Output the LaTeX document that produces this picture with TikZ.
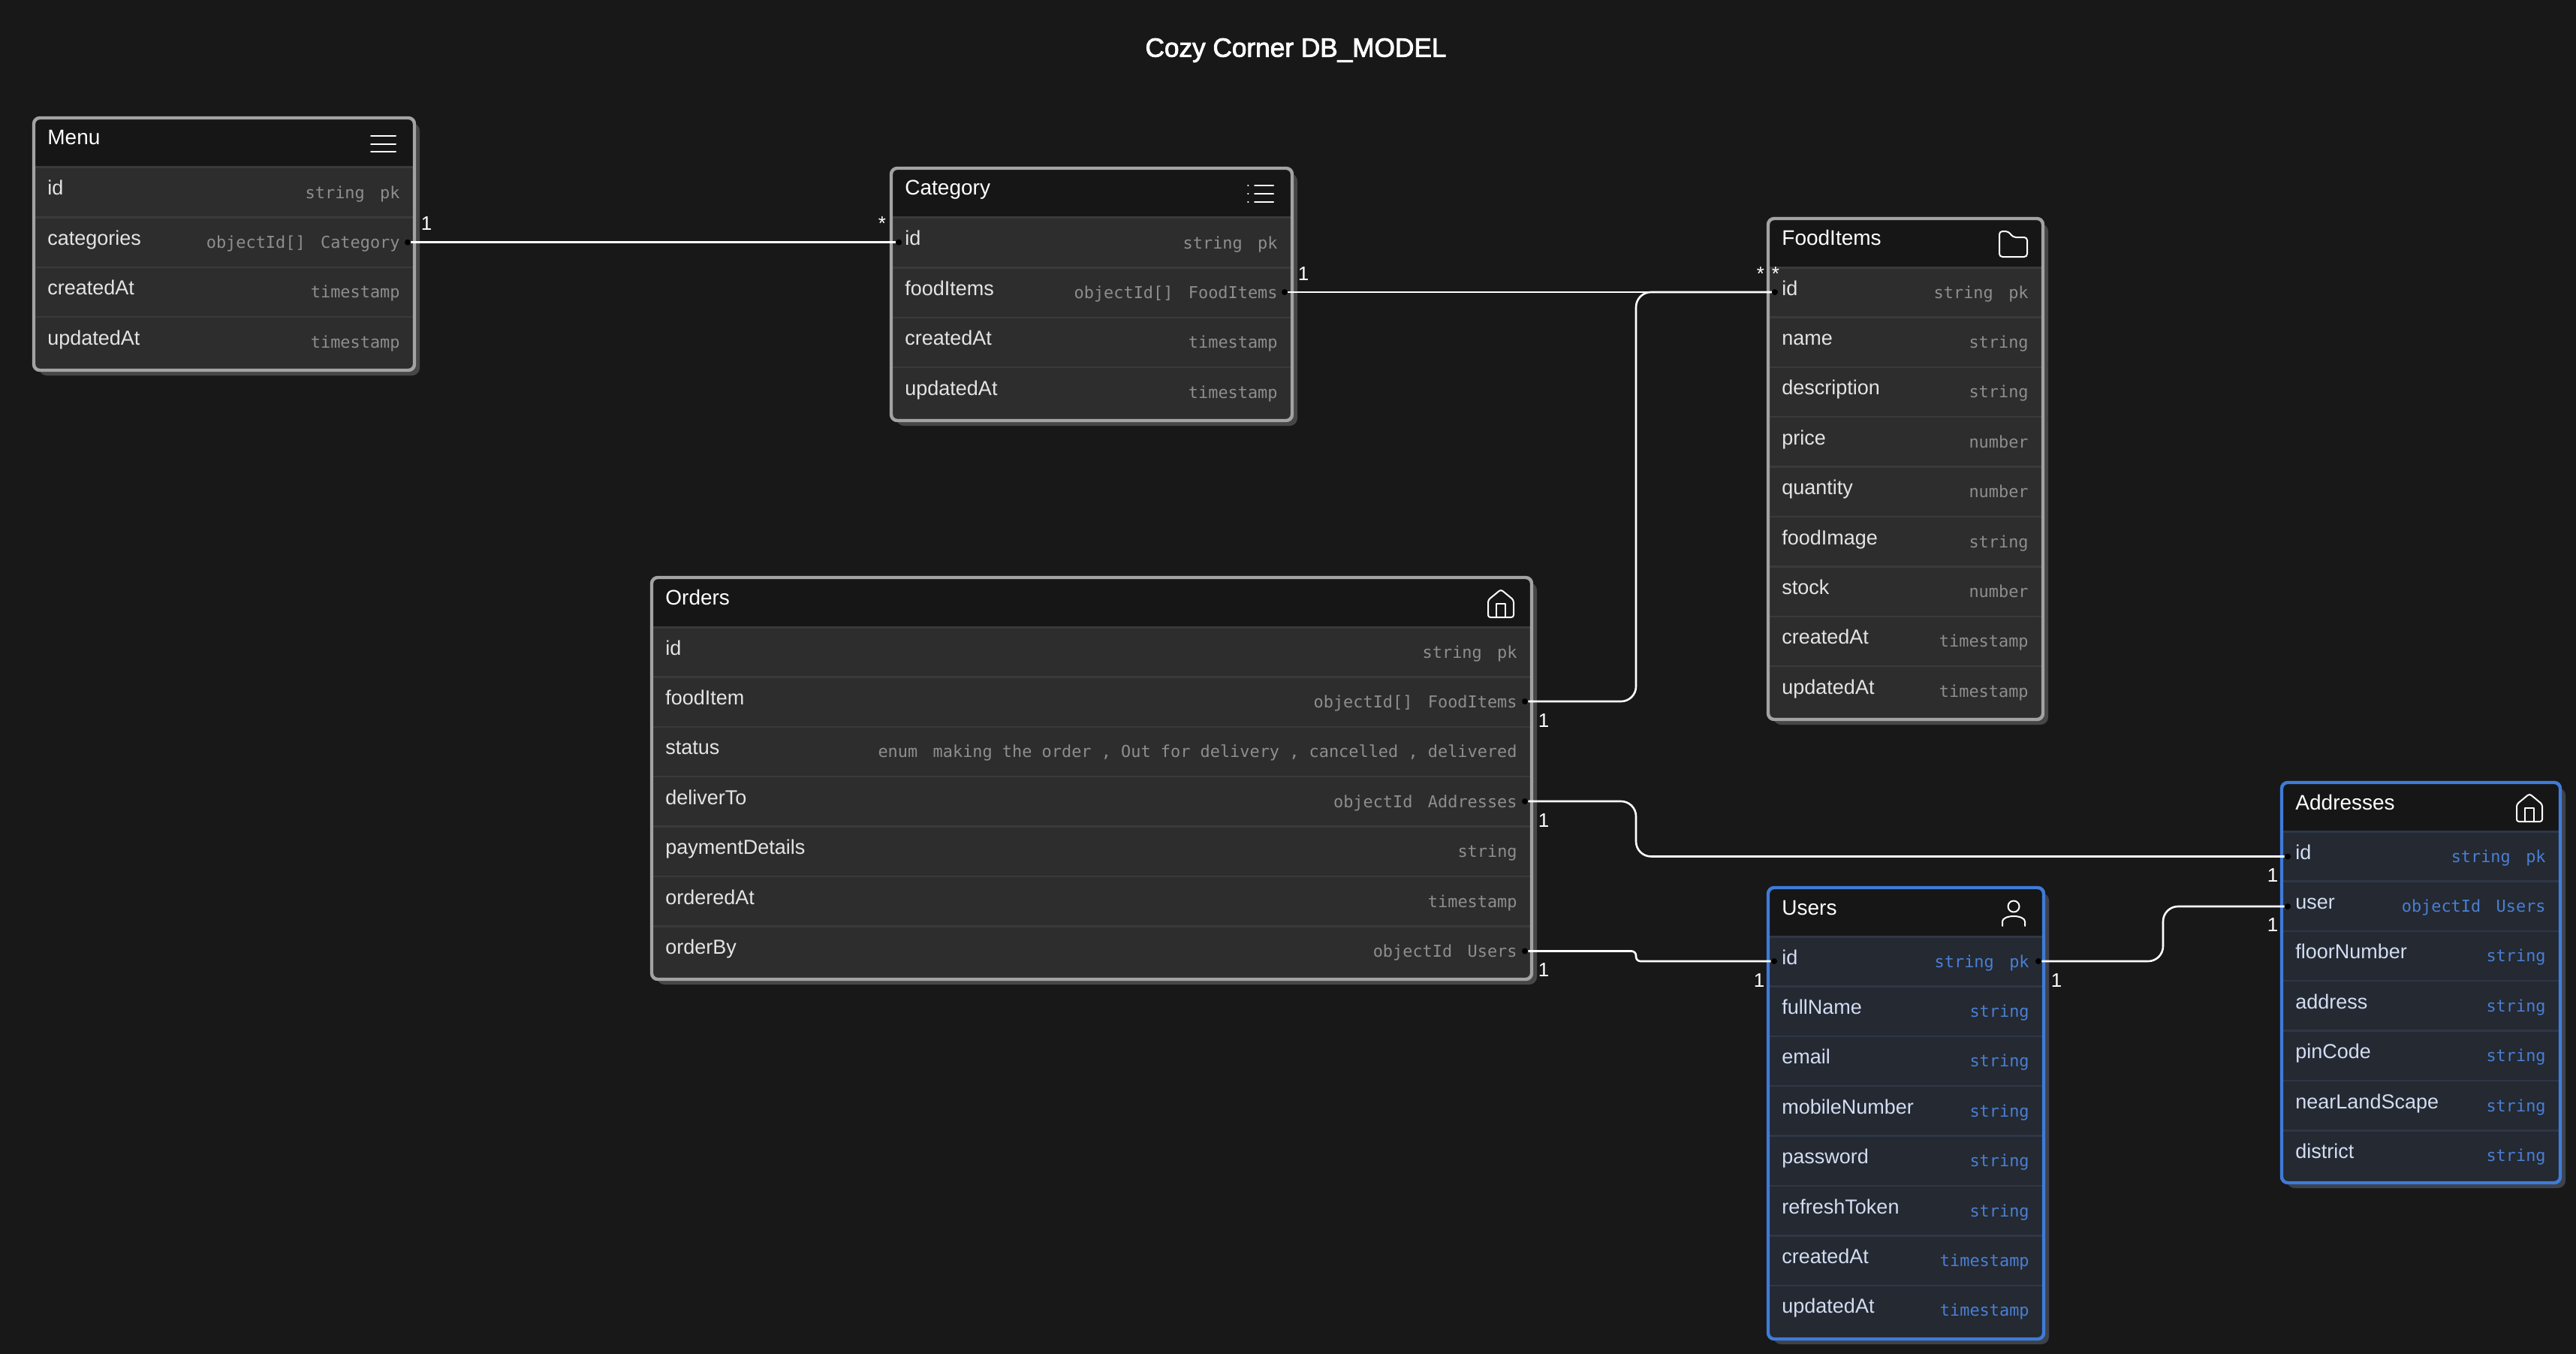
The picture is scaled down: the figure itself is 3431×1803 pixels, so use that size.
\documentclass[tikz,border=0pt]{standalone}
\usepackage{fontspec}
\setmainfont{Liberation Sans}
\newfontfamily\monof{DejaVu Sans Mono}
\newfontfamily\titlef[FakeBold=2.5]{Liberation Sans}
\newcommand{\gp}{\kern0.33em}
\usetikzlibrary{calc}
\definecolor{pagebg}{HTML}{181818}
\definecolor{headbg}{HTML}{161616}
\definecolor{rowgrey}{HTML}{2D2D2D}
\definecolor{sepgrey}{HTML}{3A3A3A}
\definecolor{bordgrey}{HTML}{A3A3A3}
\definecolor{shadgrey}{HTML}{474747}
\definecolor{namegrey}{HTML}{E4E4E4}
\definecolor{typegrey}{HTML}{8E8E8E}
\definecolor{rowblue}{HTML}{242932}
\definecolor{sepblue}{HTML}{2E3747}
\definecolor{bordblue}{HTML}{3F7BD9}
\definecolor{shadblue}{HTML}{3E424A}
\definecolor{nameblue}{HTML}{D3DDF2}
\definecolor{typeblue}{HTML}{4A7FD3}
\tikzset{
  x=0.5pt,y=-0.5pt,
  fieldname/.style={anchor=base west,inner sep=0pt,font=\fontsize{13.5}{15}\selectfont},
  fieldtype/.style={anchor=base east,inner sep=0pt,font=\monof\fontsize{10.95}{13}\selectfont},
  tabletitle/.style={anchor=base west,inner sep=0pt,text=white,font=\fontsize{14}{16}\selectfont},
  conn/.style={draw=white,line width=1.3pt},
  enddot/.style={circle,fill=black,inner sep=0pt,minimum size=4pt},
  cardinal/.style={inner sep=0pt,text=white,font=\fontsize{13}{15}\selectfont},
  iconline/.style={draw=white,line width=1pt,line cap=round,line join=round},
}
\newcommand{\ertable}[9]{%
  \def\tabid{#1}\def\tabl{#2}\def\tabr{#3}\def\tabt{#4}\def\tabh{#5}\def\tabb{#6}\def\tabtitle{#7}\def\tabrow{#8}\def\tabsep{#9}%
  \ertablerest}
\newcommand{\ertablerest}[5]{%
  \fill[#2,rounded corners=5pt] (\tabl+7,\tabt+7) rectangle (\tabr+7,\tabb+7);
  \fill[headbg,rounded corners=4pt] (\tabl,\tabt) rectangle (\tabr,\tabb);
  \begin{scope}
    \clip[rounded corners=4pt] (\tabl,\tabt) rectangle (\tabr,\tabb);
    \fill[\tabrow] (\tabl,\tabh) rectangle (\tabr,\tabb);
    \draw[\tabsep,line width=1.5pt] (\tabl,\tabh) -- (\tabr,\tabh);
    \foreach \f/\g [count=\i from 0] in {#5} {
      \pgfmathsetmacro{\ry}{\tabh+66.4*\i}
      \ifnum\i>0 \draw[\tabsep,line width=1.2pt] (\tabl,\ry) -- (\tabr,\ry); \fi
      \node[fieldname,text=#3] (\tabid-name-\i) at (\tabl+18,\ry+37) {\f};
      \node[fieldtype,text=#4] (\tabid-type-\i) at (\tabr-19,\ry+41) {\g};
    }
  \end{scope}
  \draw[#1,line width=2.2pt,rounded corners=4pt] (\tabl,\tabt) rectangle (\tabr,\tabb);
  \node[tabletitle] (\tabid-title) at (\tabl+18,\tabt+36) {\tabtitle};
}
\begin{document}
\begin{tikzpicture}
\useasboundingbox (0,0) rectangle (3431,1803);
\fill[pagebg] (0,0) rectangle (3431,1803);
\node[anchor=center,text=white,inner sep=0pt,font=\titlef\fontsize{17.6}{20}\selectfont] (title) at (1726,67) {Cozy Corner DB\_MODEL};

\ertable{menu}{45}{552}{157}{223}{493}{Menu}{rowgrey}{sepgrey}
 {bordgrey}{shadgrey}{namegrey}{typegrey}
 {id/string \gp pk,categories/{objectId[] \gp Category},createdAt/timestamp,updatedAt/timestamp}
\ertable{cat}{1187}{1721}{224}{290}{560}{Category}{rowgrey}{sepgrey}
 {bordgrey}{shadgrey}{namegrey}{typegrey}
 {id/string \gp pk,foodItems/{objectId[] \gp FoodItems},createdAt/timestamp,updatedAt/timestamp}
\ertable{food}{2355}{2721}{291}{356}{958}{FoodItems}{rowgrey}{sepgrey}
 {bordgrey}{shadgrey}{namegrey}{typegrey}
 {id/string \gp pk,name/string,description/string,price/number,quantity/number,foodImage/string,stock/number,createdAt/timestamp,updatedAt/timestamp}
\ertable{ord}{868}{2040}{769}{835}{1304}{Orders}{rowgrey}{sepgrey}
 {bordgrey}{shadgrey}{namegrey}{typegrey}
 {id/string \gp pk,foodItem/{objectId[] \gp FoodItems},status/{enum \gp making the order , Out for delivery , cancelled , delivered},deliverTo/objectId \gp Addresses,paymentDetails/string,orderedAt/timestamp,orderBy/objectId \gp Users}
\ertable{usr}{2355}{2722}{1182}{1247}{1783}{Users}{rowblue}{sepblue}
 {bordblue}{shadblue}{nameblue}{typeblue}
 {id/string \gp pk,fullName/string,email/string,mobileNumber/string,password/string,refreshToken/string,createdAt/timestamp,updatedAt/timestamp}
\ertable{adr}{3039}{3410}{1042}{1107}{1575}{Addresses}{rowblue}{sepblue}
 {bordblue}{shadblue}{nameblue}{typeblue}
 {id/string \gp pk,user/objectId \gp Users,floorNumber/string,address/string,pinCode/string,nearLandScape/string,district/string}

% icons
\draw[iconline] (494,181)--(527,181) (494,192)--(527,192) (494,202)--(527,202);
\draw[iconline] (1662,247)--(1662.5,247) (1662,258)--(1662.5,258) (1662,269)--(1662.5,269)
  (1671,247)--(1696,247) (1671,258)--(1696,258) (1671,269)--(1696,269);
\draw[iconline,rounded corners=2pt] (2663,342)--(2663,308)--(2675,308)--(2681,316)--(2700,316)--(2700,342)--cycle;
\foreach \hx/\hy in {1982/785,3352/1057} {
  \draw[iconline,rounded corners=1.5pt] (\hx,\hy+37)--(\hx,\hy+14)--(\hx+17,\hy)--(\hx+34,\hy+14)--(\hx+34,\hy+37)--cycle;
  \draw[iconline] (\hx+11,\hy+37)--(\hx+11,\hy+19)--(\hx+23,\hy+19)--(\hx+23,\hy+37);
}
\draw[iconline] (2682,1207) circle[radius=7.5];
\draw[iconline] (2667,1233) -- (2667,1227) arc[start angle=180,end angle=360,x radius=15,y radius=7] -- (2697,1233);

% connector ends
\node[enddot] (e1a) at (543,322.7) {};
\node[enddot] (e1b) at (1197,322.7) {};
\node[enddot] (e2a) at (1711,389) {};
\node[enddot] (e2b) at (2364,389) {};
\node[enddot] (e3a) at (2031,934) {};
\node[enddot] (e4a) at (2031,1067) {};
\node[enddot] (e4b) at (3047,1140.5) {};
\node[enddot] (e5a) at (2031,1266.5) {};
\node[enddot] (e5b) at (2363,1280) {};
\node[enddot] (e6a) at (2715,1280) {};
\node[enddot] (e6b) at (3047,1207) {};
\coordinate (vm) at (2179,0);
\coordinate (vr) at (2881,0);

\draw[conn] (e1a) -- (e1b);
\draw[conn] (e2a) -- (e2b);
\draw[conn,rounded corners=10pt] (e3a) -- (e3a.center -| vm) -- (e2b.center -| vm) -- (e2b);
\draw[conn,rounded corners=10pt] (e4a) -- (e4a.center -| vm) -- (e4b.center -| vm) -- (e4b);
\draw[conn,rounded corners=3pt] (e5a) -- (e5a.center -| vm) -- (e5b.center -| vm) -- (e5b);
\draw[conn,rounded corners=10pt] (e6a) -- (e6a.center -| vr) -- (e6b.center -| vr) -- (e6b);

% cardinalities
\node[cardinal] (c1) at (568,298) {1};
\node[cardinal] (c2) at (1175,298) {*};
\node[cardinal] (c3) at (1736,365) {1};
\node[cardinal] (c4) at (2345,365) {*};
\node[cardinal] (c5) at (2365,365) {*};
\node[cardinal] (c6) at (2056,960) {1};
\node[cardinal] (c7) at (2056,1093) {1};
\node[cardinal] (c8) at (2056,1292) {1};
\node[cardinal] (c9) at (3027,1166) {1};
\node[cardinal] (c10) at (3027,1232) {1};
\node[cardinal] (c11) at (2343,1306) {1};
\node[cardinal] (c12) at (2739,1306) {1};
\end{tikzpicture}
\end{document}
